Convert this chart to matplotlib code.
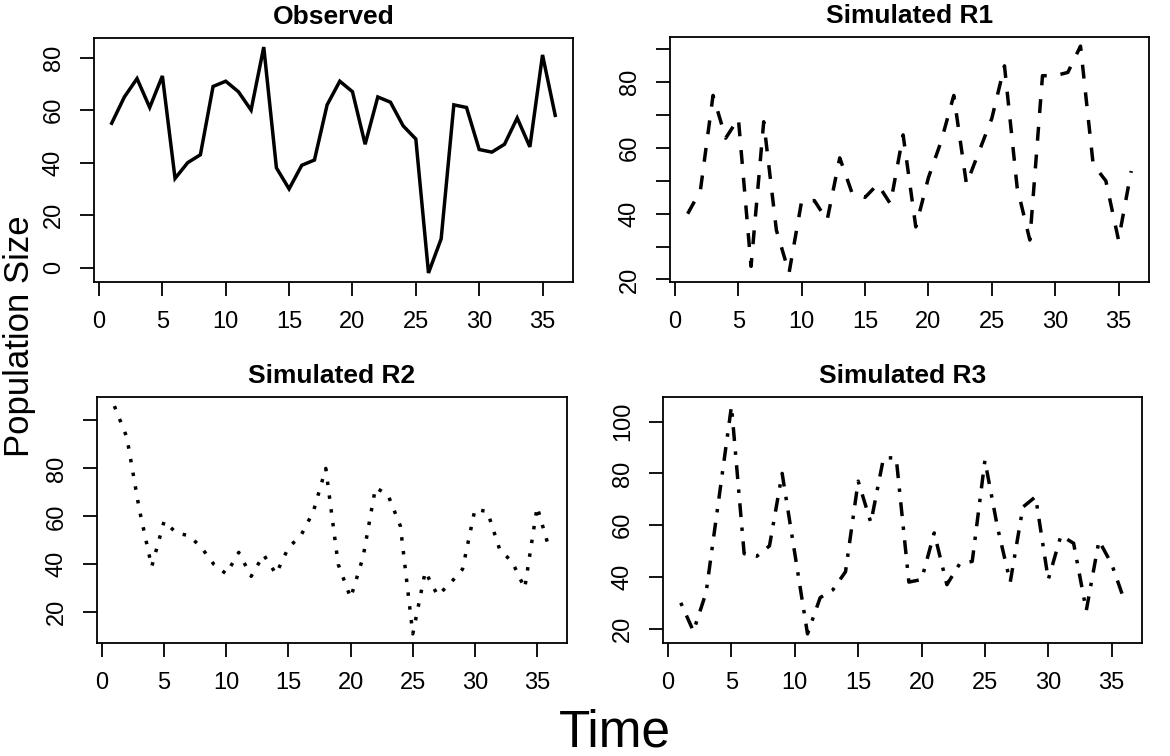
import matplotlib
matplotlib.use("Agg")
import matplotlib.pyplot as plt

plt.rcParams["font.family"] = ["Liberation Sans", "DejaVu Sans"]

# data
time = list(range(1, 37))
observed = [55, 65, 72, 61, 73, 34, 40, 43, 69, 71, 67, 60, 84, 38, 30, 39, 41, 62,
            71, 67, 47, 65, 63, 54, 49, -2, 11, 62, 61, 45, 44, 47, 57, 46, 81, 58]
sim_r1 = [40, 47, 76, 63, 69, 24, 68, 35, 22, 44, 44, 38, 57, 46, 45, 49, 43, 64,
          36, 51, 62, 76, 49, 59, 69, 85, 48, 32, 82, 82, 83, 91, 55, 50, 32, 53]
sim_r2 = [106, 93, 63, 39, 58, 53, 52, 47, 40, 36, 45, 35, 44, 36, 47, 52, 62, 80,
          40, 26, 43, 72, 69, 56, 11, 37, 27, 32, 38, 63, 62, 46, 41, 30, 64, 46]
sim_r3 = [30, 19, 34, 70, 106, 49, 48, 52, 80, 49, 18, 32, 35, 42, 77, 61, 86, 86,
          38, 39, 57, 37, 45, 46, 85, 59, 38, 67, 71, 39, 56, 53, 27, 54, 45, 31]

x_ticks = [0, 5, 10, 15, 20, 25, 30, 35]

panels = [
    ("Observed", observed, None, [0, 20, 40, 60, 80], [0, 20, 40, 60, 80],
     [0.0803, 0.627, 0.4094, 0.3227]),
    ("Simulated R1", sim_r1, (0, (4, 4)), [20, 30, 40, 50, 60, 70, 80, 90], [20, 40, 60, 80],
     [0.5726, 0.627, 0.4094, 0.3240]),
    ("Simulated R2", sim_r2, (0, (1, 3)), [20, 40, 60, 80, 100], [20, 40, 60, 80],
     [0.0829, 0.1495, 0.4017, 0.3254]),
    ("Simulated R3", sim_r3, (0, (1, 3, 4, 3)), [20, 40, 60, 80, 100], [20, 40, 60, 80, 100],
     [0.5667, 0.1495, 0.4094, 0.3254]),
]

fig = plt.figure(figsize=(11.7, 7.56), dpi=100)

for title, vals, ls, yt, ylab, pos in panels:
    ax = fig.add_axes(pos)
    if ls is None:
        ax.plot(time, vals, color="black", lw=2.5, solid_joinstyle="miter")
    else:
        ax.plot(time, vals, color="black", lw=2.5, linestyle=ls, dash_capstyle="butt")
    ax.margins(x=0.04, y=0.04)
    ax.set_xticks(x_ticks)
    ax.set_yticks(yt)
    ax.set_yticklabels([str(v) if v in ylab else "" for v in yt])
    ax.tick_params(direction="out", length=10, width=1.3, labelsize=17, pad=11)
    for lab in ax.get_yticklabels():
        lab.set_rotation(90)
        lab.set_va("center")
    for sp in ax.spines.values():
        sp.set_linewidth(1.3)
    ax.set_title(title, fontsize=19, fontweight="bold", pad=10)

fig.text(0.5256, 0.03, "Time", fontsize=37, ha="center", va="center")
fig.text(0.017, 0.555, "Population Size", fontsize=25, rotation=90, ha="center", va="center")

fig.savefig("out.png", dpi=100)
